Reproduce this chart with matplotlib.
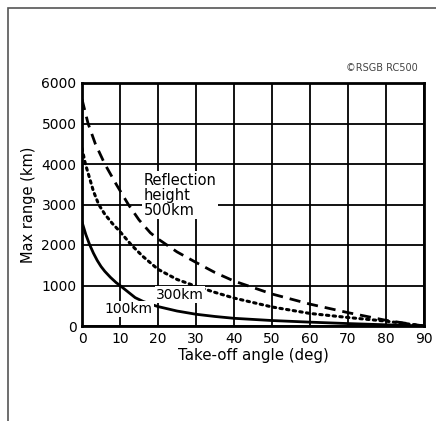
import matplotlib
matplotlib.use("Agg")
from matplotlib import pyplot as plt
from matplotlib.patches import Rectangle

# take-off angle (deg) and read-off max range (km) for each reflection height
angle_100 = [0, 1, 2, 3, 4, 5, 6, 7.5, 9, 10, 12, 14, 16, 18, 20, 25, 30, 35, 40, 50, 60, 70, 80, 90]
range_100 = [2570, 2260, 2010, 1800, 1620, 1470, 1350, 1200, 1070, 1000, 850, 700, 610, 540, 480,
             370, 290, 235, 190, 135, 95, 60, 30, 0]

angle_300 = [0, 0.9, 2, 3, 4.4, 6, 8, 10, 13, 16, 20, 25, 30, 35, 40, 50, 60, 70, 80, 90]
range_300 = [4390, 4000, 3650, 3330, 3000, 2760, 2530, 2330, 2000, 1720, 1400, 1150, 980,
             830, 690, 470, 310, 210, 120, 0]

angle_500 = [0, 1.6, 3.5, 6, 9, 12.2, 15, 18, 20, 25, 30, 35, 40, 50, 60, 70, 80, 90]
range_500 = [5600, 5000, 4500, 4000, 3500, 3000, 2620, 2300, 2150, 1830, 1570, 1320, 1110,
             790, 540, 330, 140, 0]

x_ticks = [0, 10, 20, 30, 40, 50, 60, 70, 80, 90]
y_ticks = [0, 1000, 2000, 3000, 4000, 5000, 6000]

fig = plt.figure(figsize=(4.36, 4.21), dpi=100)
fig.patch.set_facecolor("white")

# outer frame of the printed figure (partly cropped)
fig.patches.append(Rectangle((8 / 436, -0.1), 1.2, 1 - 8 / 421 + 0.1,
                             transform=fig.transFigure, fill=False,
                             edgecolor="#555555", linewidth=1.2))

ax = fig.add_axes([82 / 436, 1 - 326 / 421, 342 / 436, 243 / 421])
ax.set_xlim(0, 90)
ax.set_ylim(0, 6000)
ax.set_xticks(x_ticks)
ax.set_yticks(y_ticks)
ax.grid(True, color="black", linewidth=1.3)
ax.set_axisbelow(True)
for s in ax.spines.values():
    s.set_linewidth(2)
ax.tick_params(length=0, pad=4, labelsize=10)

ax.plot(angle_100, range_100, color="black", linewidth=2)
ax.plot(angle_300, range_300, color="black", linewidth=2.2, linestyle=(0, (0.8, 1.4)),
        dash_capstyle="round")
ax.plot(angle_500, range_500, color="black", linewidth=2, linestyle=(0, (4, 2.5)))

box = dict(facecolor="white", edgecolor="none", pad=1)
ax.text(16.3, 3230, "Reflection\nheight\n500km", fontsize=10.5, linespacing=1.0,
        va="center", ha="left", bbox=box)
ax.text(19.5, 770, "300km", fontsize=10, va="center", ha="left", bbox=box)
ax.text(6, 420, "100km", fontsize=10, va="center", ha="left", bbox=box)

ax.set_xlabel("Take-off angle (deg)", fontsize=10.8, labelpad=2)
ax.set_ylabel("Max range (km)", fontsize=10.5, labelpad=4)

fig.text(382 / 436, 1 - 68 / 421, "\u00a9RSGB RC500", fontsize=7, color="#444444",
         ha="center", va="center")

fig.savefig("out.png", dpi=100)
